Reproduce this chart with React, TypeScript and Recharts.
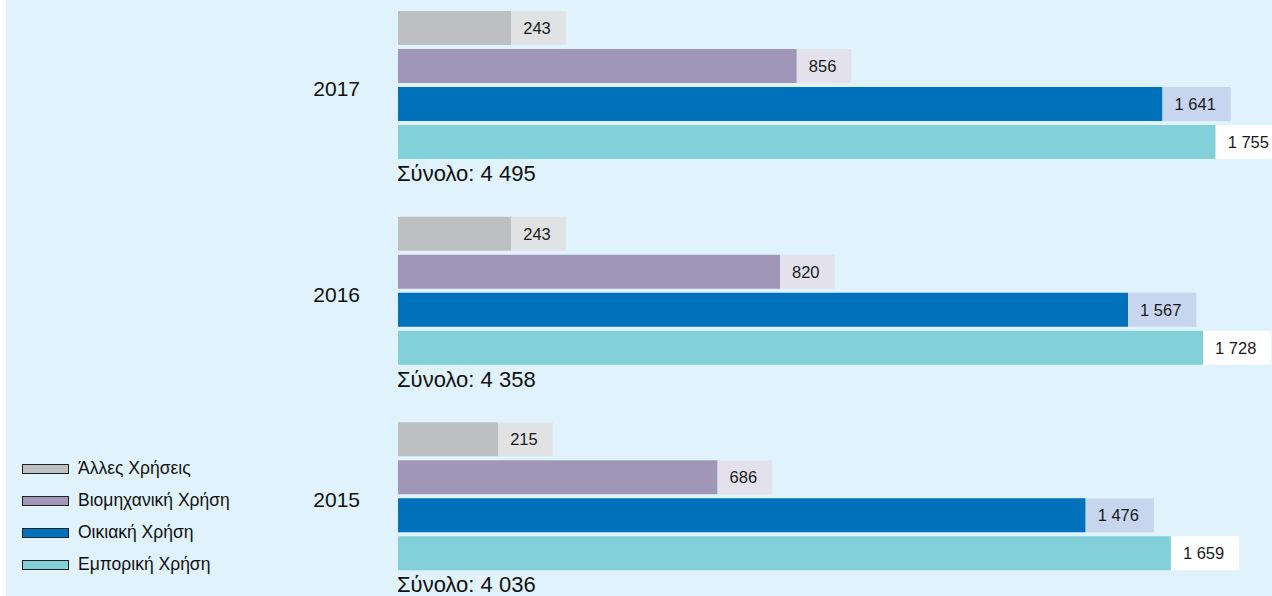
import { BarChart, Bar, XAxis, YAxis, LabelList, Legend } from "recharts";

const years = ["2017", "2016", "2015"];
const other = [243, 243, 215];
const industrial = [856, 820, 686];
const household = [1641, 1567, 1476];
const commercial = [1755, 1728, 1659];

const seriesNames = ["Άλλες Χρήσεις", "Βιομηχανική Χρήση", "Οικιακή Χρήση", "Εμπορική Χρήση"];

const data = years.map((year, i) => ({
  year,
  other: other[i],
  industrial: industrial[i],
  household: household[i],
  commercial: commercial[i],
  total: other[i] + industrial[i] + household[i] + commercial[i],
}));

const FONT = "'Liberation Sans', Arial, Helvetica, sans-serif";

const fmt = (v: number) =>
  v >= 1000 ? `${Math.floor(v / 1000)} ${String(v % 1000).padStart(3, "0")}` : String(v);

const textWidth = (s: string, size: number) =>
  s.split("").reduce((w, ch) => w + (ch === " " ? 0.278 : 0.556) * size, 0);

const makeLabel = (boxFill: string) => (props: any) => {
  const { x, y, width, height, value } = props;
  const text = fmt(Number(value));
  const tw = textWidth(text, 16.5);
  const x0 = Number(x) + Number(width);
  return (
    <g>
      <rect x={x0} y={y} width={tw + 27} height={height} fill={boxFill} />
      <text
        x={x0 + 12}
        y={Number(y) + Number(height) / 2 + 6}
        fontSize={16.5}
        fill="#1a1a1a"
        fontFamily={FONT}
      >
        {text}
      </text>
    </g>
  );
};

const YearTick = (props: any) => {
  const { x, y, payload } = props;
  const row = data.find((d) => d.year === payload.value);
  return (
    <g>
      <text x={x - 38} y={y + 11} textAnchor="end" fontSize={21} fill="#111" fontFamily={FONT}>
        {payload.value}
      </text>
      <text x={x - 1} y={y + 96} textAnchor="start" fontSize={22} fill="#111" fontFamily={FONT}>
        {`Σύνολο: ${fmt(row ? row.total : 0)}`}
      </text>
    </g>
  );
};

const LegendBox = (props: any) => {
  const items = [...(props.payload || [])].sort(
    (a: any, b: any) => seriesNames.indexOf(a.value) - seriesNames.indexOf(b.value)
  );
  return (
    <div style={{ fontFamily: FONT }}>
      {items.map((item: any) => (
        <div key={item.value} style={{ display: "flex", alignItems: "center", height: 32 }}>
          <span
            style={{
              display: "inline-block",
              width: 45,
              height: 8,
              background: item.color,
              border: "1.5px solid #222",
              marginRight: 9,
            }}
          />
          <span style={{ fontSize: 17.5, color: "#111" }}>{item.value}</span>
        </div>
      ))}
    </div>
  );
};

export default function App() {
  return (
    <div
      style={{
        position: "fixed",
        left: 0,
        top: 0,
        width: 1272,
        height: 596,
        overflow: "hidden",
        background: "#ffffff",
      }}
    >
      <div style={{ position: "absolute", left: 6, top: 0, right: 0, bottom: 0, background: "#e0f2fc" }} />
      <div style={{ position: "absolute", left: 0, top: -18 }}>
        <BarChart
          width={1272}
          height={617}
          data={data}
          layout="vertical"
          margin={{ top: 0, right: 0, bottom: 0, left: 0 }}
          barSize={34}
          barGap={4}
        >
          <XAxis type="number" domain={[0, 1876]} hide />
          <YAxis
            type="category"
            dataKey="year"
            width={398}
            axisLine={false}
            tickLine={false}
            tickSize={0}
            tickMargin={0}
            tick={<YearTick />}
          />
          <Legend
            layout="vertical"
            align="center"
            verticalAlign="middle"
            itemSorter={null}
            content={<LegendBox />}
            wrapperStyle={{ position: "absolute", left: 22, top: 470.5, width: 300 }}
          />
          <Bar dataKey="other" name={seriesNames[0]} fill="#bebfc1" isAnimationActive={false}>
            <LabelList dataKey="other" content={makeLabel("#e1e2e4")} />
          </Bar>
          <Bar dataKey="industrial" name={seriesNames[1]} fill="#a097b8" isAnimationActive={false}>
            <LabelList dataKey="industrial" content={makeLabel("#e3e2ec")} />
          </Bar>
          <Bar dataKey="household" name={seriesNames[2]} fill="#0071bb" isAnimationActive={false}>
            <LabelList dataKey="household" content={makeLabel("#c7d5ee")} />
          </Bar>
          <Bar dataKey="commercial" name={seriesNames[3]} fill="#82d1d9" isAnimationActive={false}>
            <LabelList dataKey="commercial" content={makeLabel("#ffffff")} />
          </Bar>
        </BarChart>
      </div>
    </div>
  );
}
